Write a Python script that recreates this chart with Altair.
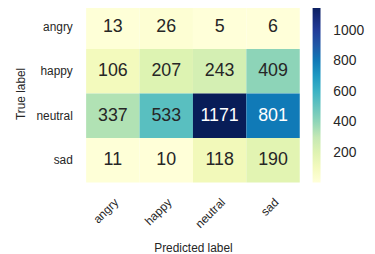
import altair as alt
import pandas as pd

true_labels = ["angry", "happy", "neutral", "sad"]
pred_labels = ["angry", "happy", "neutral", "sad"]
counts = [
    [13, 26, 5, 6],
    [106, 207, 243, 409],
    [337, 533, 1171, 801],
    [11, 10, 118, 190],
]
legend_ticks = [200, 400, 600, 800, 1000]
ylgnbu = ["#ffffd9", "#edf8b1", "#c7e9b4", "#7fcdbb", "#41b6c4",
          "#1d91c0", "#225ea8", "#253494", "#081d58"]

rows = []
for i, t in enumerate(true_labels):
    for j, p in enumerate(pred_labels):
        rows.append({"true": t, "pred": p, "count": counts[i][j]})
df = pd.DataFrame(rows)

vmin = min(min(r) for r in counts)
vmax = max(max(r) for r in counts)
dom = [vmin + (vmax - vmin) * k / 8 for k in range(9)]

font = "Liberation Sans"
x_enc = alt.X("pred:N", sort=pred_labels, title="Predicted label",
              axis=alt.Axis(labelAngle=-45, labelFontSize=12, labelColor="#262626",
                            labelPadding=14, ticks=False, domain=False,
                            titleFontSize=12, titleFontWeight="normal",
                            titleColor="#262626", titlePadding=13, labelFont=font,
                            titleFont=font))
y_enc = alt.Y("true:N", sort=true_labels, title="True label",
              axis=alt.Axis(labelFontSize=12, labelColor="#262626", labelPadding=14,
                            ticks=False, domain=False, titleFontSize=12,
                            titleFontWeight="normal", titleColor="#262626",
                            titlePadding=9, labelFont=font, titleFont=font))

base = alt.Chart(df).encode(x=x_enc, y=y_enc)

rect = base.mark_rect().encode(
    color=alt.Color("count:Q",
                    scale=alt.Scale(domain=dom, range=ylgnbu),
                    legend=alt.Legend(title=None, values=legend_ticks, format="d",
                                      gradientLength=180, gradientThickness=8,
                                      labelFontSize=14, labelColor="#262626",
                                      labelFont=font, labelOffset=13, offset=13,
                                      gradientStrokeWidth=0))
)

text = base.mark_text(fontSize=18, font=font).encode(
    text="count:Q",
    color=alt.condition(alt.datum.count > 600, alt.value("white"), alt.value("#262626")),
)

chart = (rect + text).properties(
    width=216, height=180,
    autosize=alt.AutoSizeParams(type="none"),
    padding={"left": 79, "top": -5, "right": 68, "bottom": 76},
).configure_view(strokeWidth=0)

chart.save("out.html", embed_options={"renderer": "svg", "actions": False})
